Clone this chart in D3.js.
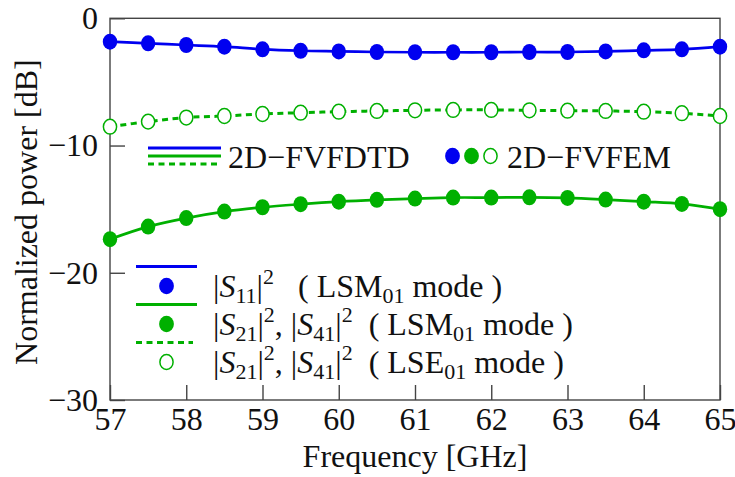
<!DOCTYPE html>
<html>
<head>
<meta charset="utf-8">
<script src="https://cdn.jsdelivr.net/npm/d3@7"></script>
</head>
<body style="margin:0">
<script>
// frequency points [GHz]
const freq = [57, 57.5, 58, 58.5, 59, 59.5, 60, 60.5, 61, 61.5, 62, 62.5, 63, 63.5, 64, 64.5, 65];
// |S11|^2, LSM01 mode [dB]
const s11Lsm = [-1.84, -1.97, -2.1, -2.23, -2.44, -2.55, -2.6, -2.65, -2.67, -2.67, -2.67, -2.65, -2.65, -2.6, -2.52, -2.44, -2.23];
// |S21|^2, |S41|^2, LSM01 mode [dB]
const s21Lsm = [-17.36, -16.37, -15.7, -15.19, -14.85, -14.61, -14.41, -14.27, -14.17, -14.09, -14.09, -14.07, -14.12, -14.25, -14.41, -14.59, -15.0];
// |S21|^2, |S41|^2, LSE01 mode [dB]
const s21Lse = [-8.52, -8.12, -7.8, -7.68, -7.52, -7.42, -7.34, -7.28, -7.23, -7.2, -7.2, -7.23, -7.26, -7.28, -7.34, -7.46, -7.68];

const xTicks = [57, 58, 59, 60, 61, 62, 63, 64, 65];
const yTicks = [0, -10, -20, -30];

const blue = '#0000f0';
const green = '#00b000';
const NB = '\u00a0';

const width = 735;
const height = 477;
const margin = { top: 18.3, right: 15, bottom: 77, left: 110 };

const svg = d3.select('body')
  .append('svg')
  .attr('width', width)
  .attr('height', height);

const xScale = d3.scaleLinear().domain([57, 65]).range([margin.left, width - margin.right]);
const yScale = d3.scaleLinear().domain([-30, 0]).range([height - margin.bottom, margin.top]);

// set font on a text selection (inline style)
function serifFont(sel, size) {
  return sel.style('font', `${size}px "Liberation Serif", Tinos, "DejaVu Serif"`).attr('fill', '#111');
}

// axes with inward ticks
const xAxis = d3.axisBottom(xScale).tickValues(xTicks).tickSizeInner(-15).tickSizeOuter(0).tickPadding(7).tickFormat(d3.format('d'));
const yAxis = d3.axisLeft(yScale).tickValues(yTicks).tickSizeInner(-15).tickSizeOuter(0).tickPadding(12);

const gx = svg.append('g').attr('transform', `translate(0, ${yScale(-30)})`).call(xAxis);
const gy = svg.append('g').attr('transform', `translate(${xScale(57)}, 0)`).call(yAxis);
[gx, gy].forEach(g => {
  g.attr('font-family', null).attr('font-size', null);
  g.select('.domain').remove();
  g.selectAll('line').attr('stroke', '#444').attr('stroke-width', 1.4);
  serifFont(g.selectAll('text'), 32);
});

// frame
svg.append('rect')
  .attr('x', xScale(57)).attr('y', yScale(0))
  .attr('width', xScale(65) - xScale(57))
  .attr('height', yScale(-30) - yScale(0))
  .attr('fill', 'none').attr('stroke', '#444').attr('stroke-width', 1.4);

// axis titles
serifFont(svg.append('text'), 32)
  .attr('x', (xScale(57) + xScale(65)) / 2)
  .attr('y', 467)
  .attr('text-anchor', 'middle')
  .text('Frequency [GHz]');

serifFont(svg.append('text'), 32)
  .attr('transform', `translate(37, ${(yScale(0) + yScale(-30)) / 2 + 3}) rotate(-90)`)
  .attr('text-anchor', 'middle')
  .text('Normalized power [dB]');

// series
const series = [
  { values: s21Lse, color: green, dash: '6,4.5', width: 3, open: true },
  { values: s21Lsm, color: green, dash: null, width: 2.7, open: false },
  { values: s11Lsm, color: blue, dash: null, width: 2.7, open: false },
];

const line = d3.line()
  .x((d, i) => xScale(freq[i]))
  .y(d => yScale(d))
  .curve(d3.curveCatmullRom);

series.forEach(s => {
  svg.append('path')
    .datum(s.values)
    .attr('d', line)
    .attr('fill', 'none')
    .attr('stroke', s.color)
    .attr('stroke-width', s.width)
    .attr('stroke-dasharray', s.dash);
});

series.forEach(s => {
  svg.append('g')
    .selectAll('ellipse')
    .data(s.values)
    .join('ellipse')
    .attr('cx', (d, i) => xScale(freq[i]))
    .attr('cy', d => yScale(d))
    .attr('rx', s.open ? 6.6 : 7.2)
    .attr('ry', s.open ? 7.4 : 8)
    .attr('fill', s.open ? '#fff' : s.color)
    .attr('stroke', s.open ? s.color : 'none')
    .attr('stroke-width', 1.5);
});

// legend: methods
const leg1 = svg.append('g');
[[148, blue, null], [156, green, null], [164, green, '6,4.5']].forEach(([y, c, dash]) => {
  leg1.append('line')
    .attr('x1', 148).attr('x2', 221).attr('y1', y).attr('y2', y)
    .attr('stroke', c).attr('stroke-width', 3).attr('stroke-dasharray', dash);
});
serifFont(leg1.append('text'), 32).attr('x', 228).attr('y', 167.5).text('2D\u2212FVFDTD');
[[452.5, blue, false], [471.5, green, false], [490.5, green, true]].forEach(([x, c, open]) => {
  leg1.append('ellipse')
    .attr('cx', x).attr('cy', 156)
    .attr('rx', open ? 6.6 : 7.4).attr('ry', open ? 7.4 : 8.2)
    .attr('fill', open ? '#fff' : c)
    .attr('stroke', open ? c : 'none')
    .attr('stroke-width', 1.5);
});
serifFont(leg1.append('text'), 32).attr('x', 507).attr('y', 167.5).text('2D\u2212FVFEM');

// legend: quantities
const legendRows = [
  { y: 286, color: blue, dash: null, open: false, parts: [['S', '11']], mode: ['LSM', '01'], gap: NB + NB },
  { y: 324, color: green, dash: null, open: false, parts: [['S', '21'], ['S', '41']], mode: ['LSM', '01'], gap: NB },
  { y: 362, color: green, dash: '6,4.5', open: true, parts: [['S', '21'], ['S', '41']], mode: ['LSE', '01'], gap: NB },
];

// builds rich text from segments: [text, size, shift(+down), italic]
function richText(t, segs) {
  let cur = 0;
  segs.forEach(([txt, size, shift, italic]) => {
    const ts = serifFont(t.append('tspan'), size).attr('dy', shift - cur).text(txt);
    if (italic) ts.style('font-style', 'italic');
    cur = shift;
  });
}

const leg2 = svg.append('g');
legendRows.forEach(r => {
  leg2.append('line')
    .attr('x1', 136).attr('x2', r.dash ? 193 : 197)
    .attr('y1', r.y - 19.5).attr('y2', r.y - 19.5)
    .attr('stroke', r.color).attr('stroke-width', 3).attr('stroke-dasharray', r.dash);
  leg2.append('ellipse')
    .attr('cx', 166.5).attr('cy', r.y)
    .attr('rx', r.open ? 6.6 : 7.4).attr('ry', r.open ? 7.4 : 8.2)
    .attr('fill', r.open ? '#fff' : r.color)
    .attr('stroke', r.open ? r.color : 'none')
    .attr('stroke-width', 1.5);

  const segs = [];
  r.parts.forEach((p, i) => {
    if (i > 0) segs.push([',' + NB, 32, 0, false]);
    segs.push(['|', 32, 0, false]);
    segs.push([p[0], 32, 0, true]);
    segs.push([p[1], 22, 6, false]);
    segs.push(['|', 32, 0, false]);
    segs.push(['2', 22, -13, false]);
  });
  segs.push([r.gap + NB + '(' + NB + r.mode[0], 32, 0, false]);
  segs.push([r.mode[1], 22, 6, false]);
  segs.push([NB + 'mode' + NB + ')', 32, 0, false]);

  const t = serifFont(leg2.append('text'), 32).attr('x', 213).attr('y', r.y + 11);
  richText(t, segs);
});
</script>
</body>
</html>
